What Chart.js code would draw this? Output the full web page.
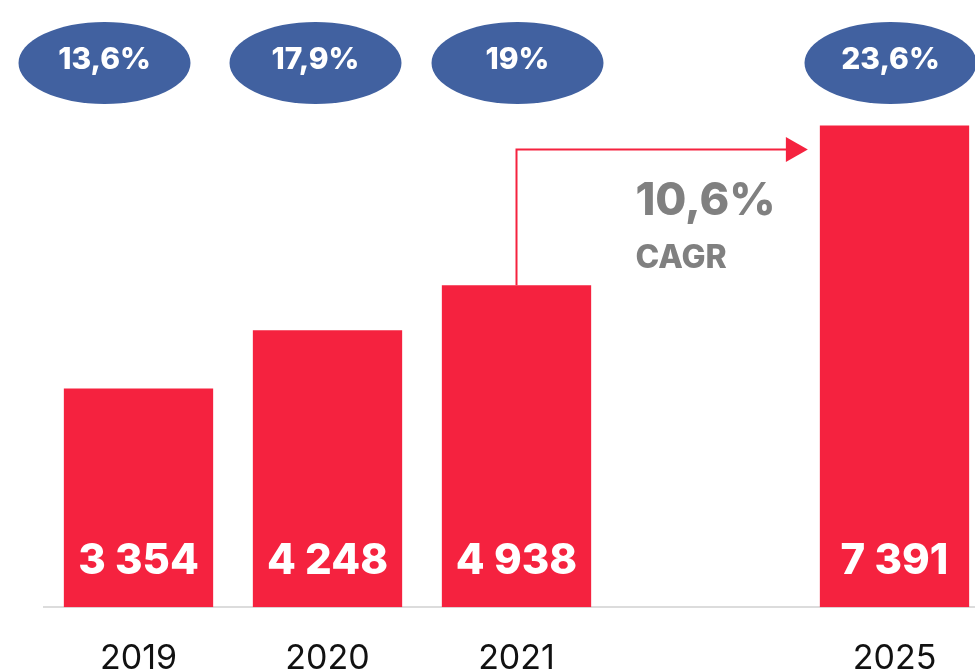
<!DOCTYPE html>
<html>
<head>
<meta charset="utf-8">
<script src="https://cdn.jsdelivr.net/npm/chart.js@4.4.1/dist/chart.umd.min.js"></script>
<style>
  html, body { margin: 0; padding: 0; background: #fff; overflow: hidden; }
  #wrap { width: 990px; height: 710px; }
</style>
</head>
<body>
<div id="wrap"><canvas id="my-chart" width="990" height="710"></canvas></div>
<script>
'use strict';

// ******DATA******
let years = ['2019', '2020', '2021', '', '2025'];
let volumes = [3354, 4248, 4938, null, 7391];
let shares = ['13,6%', '17,9%', '19%', null, '23,6%'];
let cagrText = '10,6%';

// ******STYLE******
let barRed = '#F5223F';
let badgeBlue = '#4161A0';
let badgeShift = [-34, -12, 1, 0, -4];
let fontName = 'Inter, Lato, sans-serif';

let canvasElem = document.getElementById('my-chart').getContext('2d');

// draws ellipses with shares, the value labels and the CAGR arrow
let extrasPlugin = {
  id: 'extras',
  afterDatasetsDraw(chart) {
    let ctx = chart.ctx;
    let meta = chart.getDatasetMeta(0);
    let yScale = chart.scales.y;
    let base = yScale.getPixelForValue(0);

    ctx.save();
    // value labels inside bars
    ctx.fillStyle = '#fff';
    ctx.font = '800 42px ' + fontName;
    ctx.textAlign = 'center';
    ctx.textBaseline = 'middle';
    for (let i = 0; i < volumes.length; i++) {
      if (volumes[i] === null) continue;
      let bar = meta.data[i];
      let txt = volumes[i].toLocaleString('fr-FR').replace(/\s/g, ' ');
      ctx.fillText(txt, bar.x, base - 46);
    }

    // share badges
    for (let i = 0; i < shares.length; i++) {
      if (shares[i] === null) continue;
      let cx = meta.data[i].x + badgeShift[i];
      ctx.fillStyle = badgeBlue;
      ctx.beginPath();
      ctx.ellipse(cx, 63, 86, 41, 0, 0, Math.PI * 2);
      ctx.fill();
      ctx.fillStyle = '#fff';
      ctx.font = '800 30px ' + fontName;
      ctx.fillText(shares[i], cx, 60);
    }

    // CAGR arrow from 2021 to 2025
    let from = meta.data[2];
    let to = meta.data[4];
    let lineY = to.y + 24;
    let tipX = to.x - to.width / 2 - 12;
    ctx.strokeStyle = barRed;
    ctx.lineWidth = 2;
    ctx.beginPath();
    ctx.moveTo(from.x, from.y);
    ctx.lineTo(from.x, lineY);
    ctx.lineTo(tipX - 20, lineY);
    ctx.stroke();
    ctx.fillStyle = barRed;
    ctx.beginPath();
    ctx.moveTo(tipX - 22, lineY - 12.5);
    ctx.lineTo(tipX, lineY);
    ctx.lineTo(tipX - 22, lineY + 12.5);
    ctx.closePath();
    ctx.fill();

    // CAGR text centered on the empty slot
    let gapX = chart.scales.x.getPixelForValue(3);
    ctx.fillStyle = '#808080';
    ctx.font = '800 45px ' + fontName;
    let w = ctx.measureText(cagrText).width;
    ctx.textAlign = 'left';
    ctx.textBaseline = 'alphabetic';
    ctx.fillText(cagrText, gapX - w / 2, 215);
    ctx.font = '800 32px ' + fontName;
    ctx.fillText('CAGR', gapX - w / 2, 268);
    ctx.restore();
  }
};

let myChartObj = {
  type: 'bar',
  data: {
    labels: years,
    datasets: [{
      data: volumes,
      backgroundColor: barRed,
      borderWidth: 0,
      categoryPercentage: 1,
      barPercentage: 0.79
    }]
  },
  options: {
    responsive: false,
    animation: false,
    layout: {
      padding: { left: 44, right: 1, top: 0, bottom: 0 }
    },
    plugins: {
      legend: { display: false },
      tooltip: { enabled: false }
    },
    scales: {
      x: {
        grid: { display: false, drawTicks: false },
        border: { display: true, color: '#dcdcdc', width: 2 },
        ticks: {
          color: '#111',
          padding: 31,
          font: { family: fontName, size: 34, weight: 400 }
        }
      },
      y: {
        display: false,
        min: 0,
        max: 9316
      }
    }
  },
  plugins: [extrasPlugin]
};

new Chart(canvasElem, myChartObj);
</script>
</body>
</html>
